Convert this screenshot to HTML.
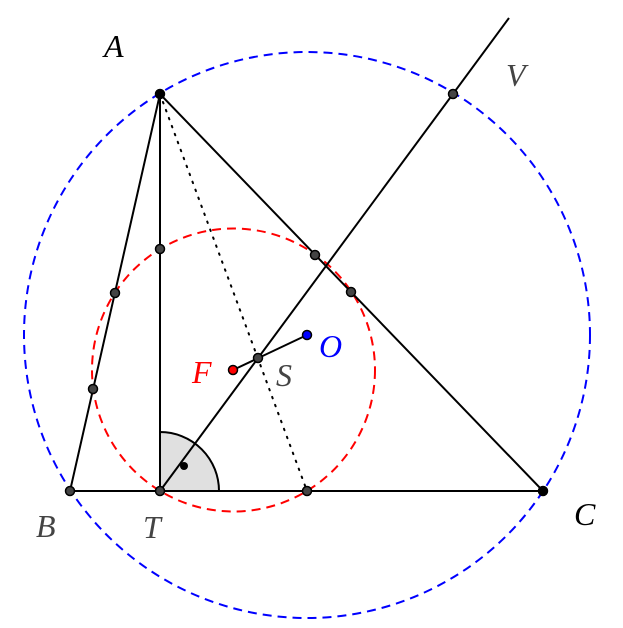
<!DOCTYPE html>
<html><head><style>html,body{margin:0;padding:0;background:#fff}svg{display:block}</style></head>
<body>
<svg width="623" height="628" viewBox="0 0 623 628" xmlns="http://www.w3.org/2000/svg">
<circle cx="307" cy="335" r="283" fill="none" stroke="#0000ff" stroke-width="2" stroke-dasharray="9,6"/>
<circle cx="233.5" cy="370" r="141.5" fill="none" stroke="#ff0000" stroke-width="2" stroke-dasharray="9,6"/>
<path d="M160,491 L160,432 A59,59 0 0 1 219,491 Z" fill="#e0e0e0" stroke="#000" stroke-width="2"/>
<g stroke="#000" stroke-width="2" fill="none">
<polygon points="160,94 70,491 543,491"/>
<line x1="160" y1="94" x2="160" y2="491"/>
<line x1="160" y1="491" x2="509" y2="18"/>
<line x1="233" y1="370" x2="307" y2="335"/>
</g>
<line x1="160" y1="94" x2="307" y2="491" stroke="#000" stroke-width="2" stroke-dasharray="1.5,7" stroke-linecap="round"/>
<circle cx="184" cy="466" r="4" fill="#000"/>
<g stroke="#000" stroke-width="1.5" fill="#444">
<circle cx="160" cy="249" r="4.5"/>
<circle cx="115" cy="293" r="4.5"/>
<circle cx="93" cy="389" r="4.5"/>
<circle cx="315" cy="255" r="4.5"/>
<circle cx="351" cy="292" r="4.5"/>
<circle cx="258" cy="358" r="4.5"/>
<circle cx="307" cy="491" r="4.5"/>
<circle cx="453" cy="94" r="4.5"/>
<circle cx="70" cy="491" r="4.5"/>
<circle cx="160" cy="491" r="4.5"/>
<circle cx="160" cy="94" r="4.5" fill="#000"/>
<circle cx="543" cy="491" r="4.5" fill="#000"/>
<circle cx="233" cy="370" r="4.5" fill="#ff0000"/>
<circle cx="307" cy="335" r="4.5" fill="#0000ff"/>
</g>
<g font-family="'Liberation Serif', serif" font-style="italic" font-size="32">
<text x="104" y="57" fill="#000">A</text>
<text x="506" y="86" fill="#444">V</text>
<text x="36" y="537" fill="#444">B</text>
<text x="143" y="538" fill="#444">T</text>
<text x="574" y="525" fill="#000">C</text>
<text x="192" y="383" fill="#ff0000">F</text>
<text x="276" y="386" fill="#444">S</text>
<text x="319" y="357" fill="#0000ff">O</text>
</g>
</svg>
</body></html>
